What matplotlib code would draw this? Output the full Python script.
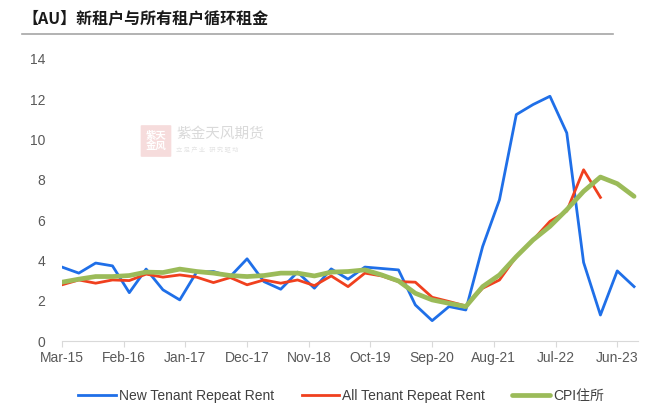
import numpy as np
import matplotlib
matplotlib.use("Agg")
import matplotlib.pyplot as plt
from matplotlib.patches import FancyBboxPatch

plt.rcParams['font.family'] = ['Liberation Sans', 'Noto Sans CJK SC', 'DejaVu Sans']

# quarterly observations, Mar-15 .. Sep-23 (months since Mar-15)
months = np.arange(35) * 3

new_tenant = [3.67, 3.37, 3.87, 3.73, 2.40, 3.57, 2.54, 2.04, 3.42, 3.45,
              3.20, 4.08, 2.95, 2.57, 3.42, 2.62, 3.58, 3.07, 3.67, 3.60,
              3.53, 1.79, 1.01, 1.71, 1.54, 4.69, 7.01, 11.24, 11.74, 12.15,
              10.33, 3.90, 1.29, 3.48, 2.70]

all_tenant = [2.79, 3.03, 2.87, 3.03, 3.00, 3.32, 3.17, 3.28, 3.17, 2.90,
              3.15, 2.79, 3.03, 2.87, 3.03, 2.75, 3.23, 2.70, 3.37, 3.23,
              2.95, 2.92, 2.17, 1.96, 1.74, 2.62, 3.03, 4.19, 5.02, 5.94,
              6.45, 8.50, 7.13]

cpi_housing = [2.92, 3.07, 3.20, 3.20, 3.25, 3.42, 3.40, 3.57, 3.45, 3.37,
               3.25, 3.20, 3.25, 3.37, 3.37, 3.23, 3.42, 3.45, 3.53, 3.28,
               2.98, 2.37, 2.04, 1.87, 1.71, 2.70, 3.28, 4.19, 5.02, 5.69,
               6.52, 7.43, 8.14, 7.81, 7.18]

tick_months = [0, 11, 22, 33, 44, 55, 66, 77, 88, 99]
tick_labels = ['Mar-15', 'Feb-16', 'Jan-17', 'Dec-17', 'Nov-18',
               'Oct-19', 'Sep-20', 'Aug-21', 'Jul-22', 'Jun-23']

fig = plt.figure(figsize=(6.58, 4.19), dpi=100)
ax = fig.add_axes([62 / 658, 1 - 341 / 419, 576 / 658, (341 - 59) / 419])
ax.patch.set_visible(False)

ax.plot(months, new_tenant, color='#1F6FE8', lw=2.0, label='New Tenant Repeat Rent', zorder=3)
ax.plot(months[:len(all_tenant)], all_tenant, color='#F0401E', lw=2.0,
        label='All Tenant Repeat Rent', zorder=4)
ax.plot(months, cpi_housing, color='#9BBB59', lw=3.4, label='CPI住所', zorder=5,
        solid_capstyle='round', solid_joinstyle='round')

ax.set_xlim(0, 102.7)
ax.set_ylim(0, 14)
ax.set_yticks(range(0, 15, 2))
ax.set_xticks(tick_months)
ax.set_xticklabels(tick_labels)

for s in ['top', 'right', 'left']:
    ax.spines[s].set_visible(False)
ax.spines['bottom'].set_color('#D9D9D9')
ax.tick_params(axis='y', length=0, pad=12, labelsize=10, labelcolor='#595959')
ax.tick_params(axis='x', length=4, color='#D9D9D9', pad=3, labelsize=10,
               labelcolor='#595959')

# title and rule underneath
fig.text(22 / 658, 1 - 18 / 419, '【AU】新租户与所有租户循环租金', fontsize=11.5,
         fontweight='bold', family=['Noto Sans CJK SC'], va='center', ha='left',
         color='#1A1A1A')
fig.add_artist(plt.Line2D([22 / 658, 613 / 658], [1 - 34 / 419, 1 - 34 / 419],
                          color='#A6A6A6', lw=1.2))

# faint watermark (seal + name)
seal = FancyBboxPatch((142 / 658, 1 - 156 / 419), 28 / 658, 30 / 419,
                      boxstyle='round,pad=0.002', transform=fig.transFigure,
                      facecolor='#F6DCDC', edgecolor='none', zorder=-1)
fig.add_artist(seal)
fig.text(156 / 658, 1 - 141 / 419, '紫天\n金风', fontsize=7.5, color='white',
         family=['Noto Sans CJK SC'], va='center', ha='center', fontweight='bold',
         linespacing=0.95, zorder=-1)
fig.text(176 / 658, 1 - 134 / 419, '紫金天风期货', fontsize=10.5, color='#DADADA',
         family=['Noto Sans CJK SC'], va='center', ha='left', zorder=-1)
fig.text(176 / 658, 1 - 150 / 419, '立 足 产 业   研 究 驱 动', fontsize=4.5,
         color='#E4E4E4', family=['Noto Sans CJK SC'], va='center', ha='left',
         zorder=-1)

fig.legend(loc='center', bbox_to_anchor=(341 / 658, 1 - 396 / 419), ncol=3,
           frameon=False, fontsize=10, handlelength=2.7, handletextpad=0.2,
           columnspacing=2.0, labelcolor='#404040')

fig.savefig('out.png', dpi=100)
